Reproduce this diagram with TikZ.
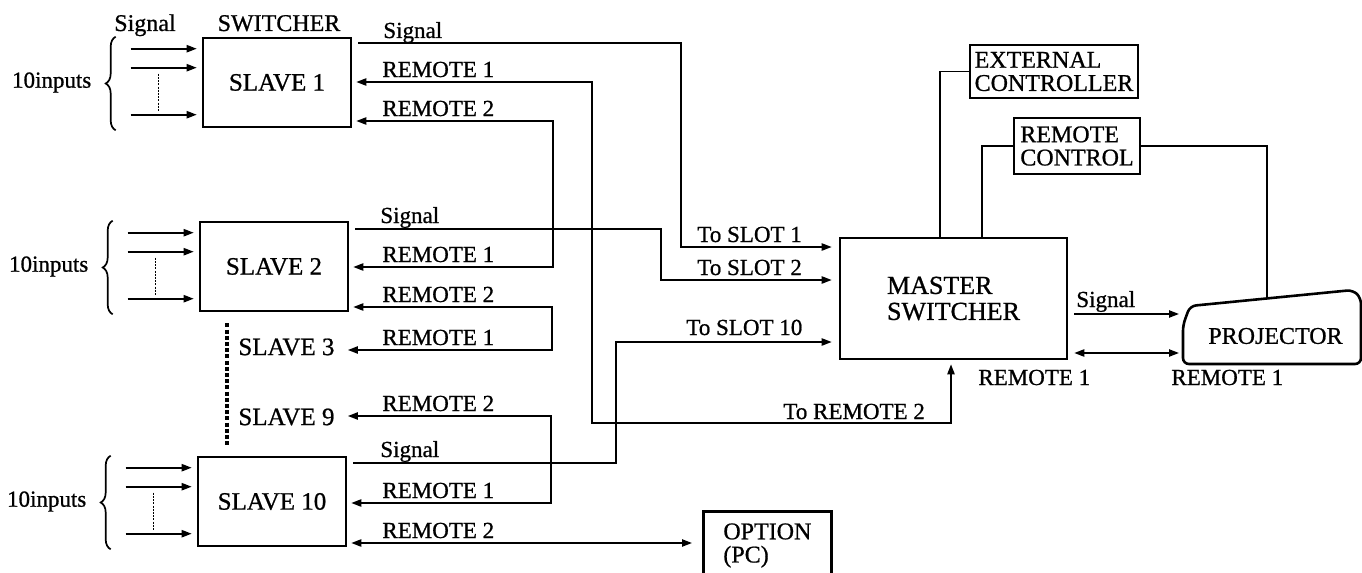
\documentclass[tikz,border=0pt]{standalone}
\usepackage{fontspec}
\setmainfont{Liberation Serif}
\newfontface\hv{Liberation Serif}[FakeBold=0.8]
\usetikzlibrary{arrows.meta,calc,decorations.pathreplacing}
\newcommand\labfont{\hv\fontsize{11.5}{12}\selectfont}
\newcommand\boxfont{\hv\fontsize{12.5}{12}\selectfont}
\newcommand\twofont{\hv\fontsize{12}{11.6}\selectfont}
\newcommand\masterfont{\hv\fontsize{13}{13}\selectfont}
\begin{document}
\begin{tikzpicture}[x=0.5pt,y=-0.5pt,
  ln/.style={line width=0.85pt},
  arr/.style={ln,-{Triangle[length=5pt,width=3.6pt]}},
  dbl/.style={ln,{Triangle[length=5pt,width=3.6pt]}-{Triangle[length=5pt,width=3.6pt]}},
  boxline/.style={line width=1.3pt},
  box/.style={draw,boxline,inner sep=0pt},
  lab/.style={font=\labfont,inner sep=0pt,anchor=base west},
  thindot/.style={line width=0.7pt,dash pattern=on 1pt off 0.6pt},
  thickdot/.style={line width=1.9pt,dash pattern=on 2pt off 1.1pt},
  brc/.style={ln,decorate,decoration={brace,mirror,amplitude=5pt}}]
\useasboundingbox (0,0) rectangle (1362,573);
\clip (0,0) rectangle (1362,573);

% slave boxes
\node[box,minimum width=74pt,minimum height=44.5pt,font=\boxfont] (s1) at (277,82.5) {SLAVE 1};
\node[box,minimum width=74pt,minimum height=44.5pt,font=\boxfont] (s2) at (274,266.5) {SLAVE 2};
\node[box,minimum width=74pt,minimum height=44.5pt,font=\boxfont] (s10) at (272,501.5) {SLAVE 10};
\node[font=\boxfont,inner sep=0pt,anchor=west] (s3) at (238,347) {SLAVE 3};
\node[font=\boxfont,inner sep=0pt,anchor=west] (s9) at (238,417) {SLAVE 9};

\node[font=\twofont,inner sep=0pt,anchor=base] (sigtop) at (145,31) {Signal};
\node[font=\twofont,inner sep=0pt,anchor=base] (swtop) at (279,31) {SWITCHER};

% inputs
\foreach \b in {s1,s2,s10}{
  \draw[arr,shorten >=2.5pt] ($(\b.north west)+(-71,12)$) -- ($(\b.north west)+(0,12)$);
  \draw[arr,shorten >=2.5pt] ($(\b.north west)+(-71,31)$) -- ($(\b.north west)+(0,31)$);
  \draw[arr,shorten >=2.5pt] ($(\b.north west)+(-71,78)$) -- ($(\b.north west)+(0,78)$);
  \draw[thindot] ($(\b.north west)+(-43,37)$) -- ($(\b.north west)+(-43,75)$);
  \draw[brc] ($(\b.north west)+(-86,0)$) -- ($(\b.south west)+(-86,2)$);
  \node[font=\labfont,inner sep=0pt,anchor=east] (in\b) at ($(\b.west)+(-110,0)$) {10inputs};
}

% dotted chain
\draw[thickdot,shorten <=5.5pt,shorten >=4.5pt] (s2.south -| 227,0) -- (s10.north -| 227,0);

% master and peripherals
\node[box,minimum width=113.5pt,minimum height=60.5pt,align=left,font=\masterfont] (master) at (953.5,298.5) {MASTER\\SWITCHER};
\node[box,minimum width=84pt,minimum height=26.5pt,align=left,font=\twofont] (ext) at (1054,71.5) {EXTERNAL\\CONTROLLER};
\node[box,minimum width=63pt,minimum height=28pt,align=left,font=\twofont] (rc) at (1077,146) {REMOTE\\CONTROL};
\node[box,minimum width=64pt,minimum height=60pt,anchor=north west] (optbox) at (702,510) {};
\node[font=\twofont,align=left,inner sep=0pt,anchor=north west] (opttext) at (723,523) {OPTION\\(PC)};

% projector
\draw[boxline,rounded corners=3pt] (1183,364) -- (1183,325) -- (1190,306) -- (1353,290) -- (1361,298) -- (1361,364) -- cycle;
\node[font=\twofont,inner sep=0pt] (proj) at (1275.5,336) {PROJECTOR};
\coordinate (projL) at (1183,336);
\coordinate (projT) at (1267,298.4);

% slave outputs
\draw[arr,shorten <=3pt,shorten >=3.5pt] (s1.east |- 0,43) -| (681,247) -- (master.west |- 0,247);
\draw[dbl,shorten <=2pt,shorten >=2pt] (s1.east |- 0,82) -| (592,423) -| (master.south -| 951,0);
\draw[dbl,shorten <=2pt,shorten >=2pt] (s1.east |- 0,121) -| (553,267) -- (s2.east |- 0,267);
\draw[arr,shorten <=3pt,shorten >=3.5pt] (s2.east |- 0,229) -| (661,280) -- (master.west |- 0,280);
\draw[dbl,shorten <=2pt,shorten >=6.5pt] (s2.east |- 0,307) -| (552,350) -- (s3.east |- 0,350);
\draw[arr,shorten <=3pt,shorten >=3.5pt] (s10.east |- 0,463) -| (616,342) -- (master.west |- 0,342);
\draw[dbl,shorten <=6.5pt,shorten >=2pt] (s9.east |- 0,416) -| (551,503) -- (s10.east |- 0,503);
\draw[dbl,shorten <=2pt,shorten >=5pt] (s10.east |- 0,543) -- (optbox.west |- 0,543);

% master connections
\draw[ln] (master.north -| 940,0) |- (ext.west);
\draw[ln] (master.north -| 982,0) |- (rc.west);
\draw[ln] (rc.east) -| (projT);
\draw[arr,shorten <=3pt,shorten >=2pt] (master.east |- 0,314) -- (projL |- 0,314);
\draw[dbl,shorten <=3pt,shorten >=2pt] (master.east |- 0,353) -- (projL |- 0,353);

% labels
\node[lab] (l1) at (383,38) {Signal};
\node[lab] (l2) at (382,77) {REMOTE 1};
\node[lab] (l3) at (382,116) {REMOTE 2};
\node[lab] (l4) at (380,223) {Signal};
\node[lab] (l5) at (382,262) {REMOTE 1};
\node[lab] (l6) at (382,302) {REMOTE 2};
\node[lab] (l7) at (382,345) {REMOTE 1};
\node[lab] (l8) at (382,411) {REMOTE 2};
\node[lab] (l9) at (380,457) {Signal};
\node[lab] (l10) at (382,498) {REMOTE 1};
\node[lab] (l11) at (382,538) {REMOTE 2};
\node[lab] (l12) at (697,242) {To SLOT 1};
\node[lab] (l13) at (697,275) {To SLOT 2};
\node[lab] (l14) at (686,335) {To SLOT 10};
\node[lab] (l15) at (783,419) {To REMOTE 2};
\node[lab] (l16) at (1076,307) {Signal};
\node[lab] (l17) at (978,385) {REMOTE 1};
\node[lab] (l18) at (1171,385) {REMOTE 1};
\end{tikzpicture}
\end{document}
